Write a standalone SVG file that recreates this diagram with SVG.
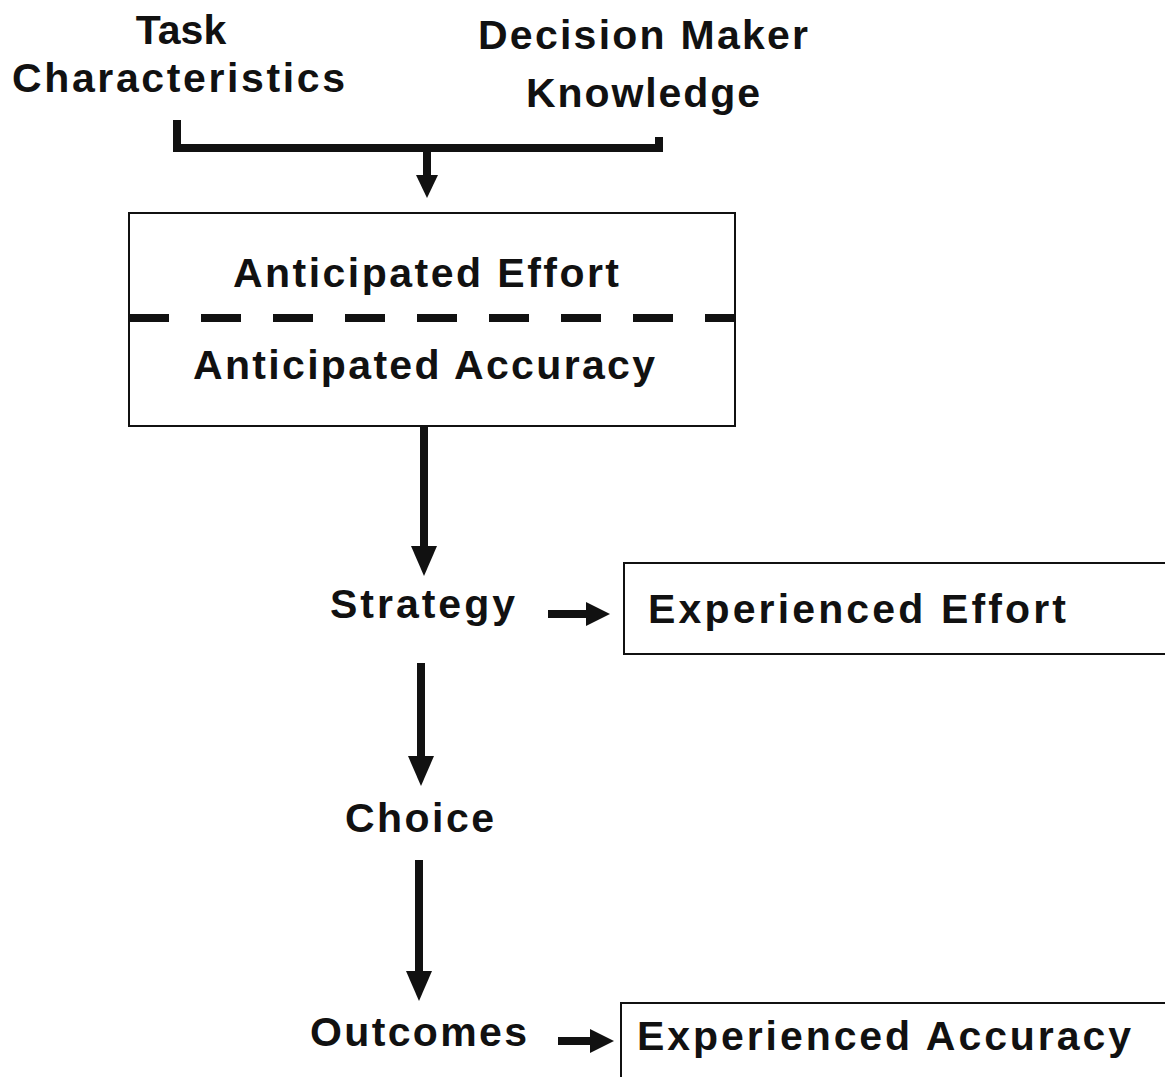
<svg xmlns="http://www.w3.org/2000/svg" width="1165" height="1077" viewBox="0 0 1165 1077">
  <style>
    .lbl { font-family: "Liberation Sans", Arial, sans-serif; font-weight: bold; font-size: 41px; fill: #111; }
    .box { fill: #fff; stroke: #111; stroke-width: 2; }
    .wire { fill: none; stroke: #111; stroke-width: 8; }
    .head { fill: #111; }
  </style>
  <rect width="1165" height="1077" fill="#fff"/>

  <g id="task-characteristics">
    <text class="lbl" x="181" y="44" text-anchor="middle">Task</text>
    <text class="lbl" x="12" y="92" textLength="333" lengthAdjust="spacing">Characteristics</text>
  </g>
  <g id="decision-maker-knowledge">
    <text class="lbl" x="478" y="49" textLength="330" lengthAdjust="spacing">Decision Maker</text>
    <text class="lbl" x="526" y="107" textLength="234" lengthAdjust="spacing">Knowledge</text>
  </g>

  <g id="anticipated">
    <rect class="box" x="129" y="213" width="606" height="213"/>
    <text class="lbl" x="233" y="287" textLength="386" lengthAdjust="spacing">Anticipated Effort</text>
    <line x1="129" y1="318" x2="735" y2="318" stroke="#111" stroke-width="8" stroke-dasharray="40 32"/>
    <text class="lbl" x="193" y="379" textLength="462" lengthAdjust="spacing">Anticipated Accuracy</text>
  </g>

  <g id="strategy">
    <text class="lbl" x="330" y="618" textLength="185" lengthAdjust="spacing">Strategy</text>
  </g>
  <g id="experienced-effort">
    <rect class="box" x="624" y="563" width="560" height="91"/>
    <text class="lbl" x="648" y="623" textLength="418" lengthAdjust="spacing">Experienced Effort</text>
  </g>
  <g id="choice">
    <text class="lbl" x="345" y="832" textLength="149" lengthAdjust="spacing">Choice</text>
  </g>
  <g id="outcomes">
    <text class="lbl" x="310" y="1046" textLength="217" lengthAdjust="spacing">Outcomes</text>
  </g>
  <g id="experienced-accuracy">
    <rect class="box" x="621" y="1003" width="560" height="90"/>
    <text class="lbl" x="637" y="1050" textLength="494" lengthAdjust="spacing">Experienced Accuracy</text>
  </g>

  <g id="connectors">
    <!-- bracket joining the two inputs -->
    <path class="wire" d="M177 120 V148 H659 V137"/>
    <line class="wire" x1="427" y1="148" x2="427" y2="178"/>
    <polygon class="head" points="416,175 438,175 427,198"/>

    <line class="wire" x1="424" y1="426" x2="424" y2="550"/>
    <polygon class="head" points="411,546 437,546 424,576"/>

    <line class="wire" x1="421" y1="663" x2="421" y2="760"/>
    <polygon class="head" points="408,756 434,756 421,786"/>

    <line class="wire" x1="419" y1="860" x2="419" y2="975"/>
    <polygon class="head" points="406,971 432,971 419,1001"/>

    <line class="wire" x1="548" y1="614" x2="590" y2="614"/>
    <polygon class="head" points="586,602 586,626 610,614"/>

    <line class="wire" x1="558" y1="1041" x2="594" y2="1041"/>
    <polygon class="head" points="590,1029 590,1053 614,1041"/>
  </g>
</svg>
